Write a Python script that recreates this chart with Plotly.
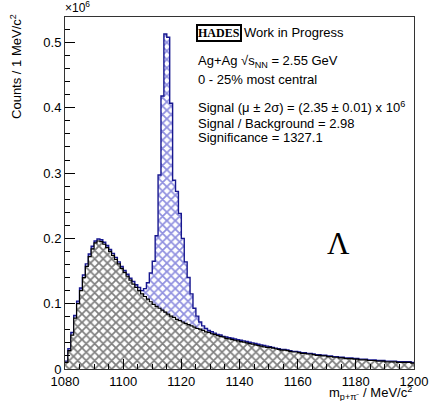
import plotly.graph_objects as go

# Invariant-mass histogram, 1 MeV/c^2 bins from 1080 to 1200 MeV/c^2
mass_min, mass_max = 1080, 1200
bin_edges = list(range(mass_min, mass_max))

# Signal + background (counts / 10^6 per bin)
total_counts = [
    0.012, 0.031, 0.056, 0.082, 0.104, 0.124, 0.144, 0.161, 0.176, 0.188,
    0.196, 0.199, 0.198, 0.194, 0.189, 0.183, 0.177, 0.171, 0.164, 0.157,
    0.151, 0.145, 0.139, 0.134, 0.129, 0.125, 0.120, 0.123, 0.132, 0.147,
    0.165, 0.204, 0.297, 0.418, 0.513, 0.508, 0.407, 0.289, 0.272, 0.238,
    0.200, 0.164, 0.140, 0.115, 0.093, 0.081, 0.072, 0.066, 0.062, 0.059,
    0.057, 0.055, 0.053, 0.052, 0.050, 0.049, 0.048, 0.047, 0.046, 0.045,
    0.044, 0.043, 0.042, 0.041, 0.040, 0.039, 0.038, 0.037, 0.036, 0.035,
    0.034, 0.033, 0.032, 0.031, 0.030, 0.030, 0.029, 0.028, 0.027, 0.027,
    0.026, 0.025, 0.025, 0.024, 0.024, 0.023, 0.022, 0.022, 0.021, 0.021,
    0.020, 0.020, 0.019, 0.019, 0.018, 0.018, 0.017, 0.017, 0.017, 0.016,
    0.016, 0.015, 0.015, 0.015, 0.014, 0.014, 0.014, 0.013, 0.013, 0.013,
    0.012, 0.012, 0.012, 0.012, 0.011, 0.011, 0.011, 0.011, 0.011, 0.010,
]

# Combinatorial background (counts / 10^6 per bin)
background_counts = [
    0.010, 0.028, 0.052, 0.078, 0.100, 0.120, 0.140, 0.157, 0.172, 0.184,
    0.193, 0.196, 0.195, 0.191, 0.186, 0.180, 0.174, 0.168, 0.161, 0.154,
    0.148, 0.142, 0.136, 0.130, 0.125, 0.120, 0.115, 0.111, 0.107, 0.103,
    0.099, 0.096, 0.093, 0.090, 0.087, 0.084, 0.081, 0.079, 0.076, 0.074,
    0.072, 0.070, 0.068, 0.066, 0.064, 0.062, 0.061, 0.059, 0.057, 0.056,
    0.054, 0.053, 0.051, 0.050, 0.049, 0.047, 0.046, 0.045, 0.044, 0.043,
    0.042, 0.041, 0.040, 0.039, 0.038, 0.037, 0.036, 0.035, 0.034, 0.033,
    0.033, 0.032, 0.031, 0.030, 0.029, 0.029, 0.028, 0.027, 0.026, 0.026,
    0.025, 0.024, 0.024, 0.023, 0.023, 0.022, 0.021, 0.021, 0.020, 0.020,
    0.019, 0.019, 0.018, 0.018, 0.017, 0.017, 0.016, 0.016, 0.016, 0.015,
    0.015, 0.014, 0.014, 0.014, 0.013, 0.013, 0.013, 0.012, 0.012, 0.012,
    0.011, 0.011, 0.011, 0.011, 0.010, 0.010, 0.010, 0.010, 0.010, 0.009,
]

x_tick_values = [1080, 1100, 1120, 1140, 1160, 1180, 1200]
x_tick_labels = ["1080", "1100", "1120", "1140", "1160", "1180", "1200"]
y_tick_values = [0.0, 0.1, 0.2, 0.3, 0.4, 0.5]
y_tick_labels = ["0", "0.1", "0.2", "0.3", "0.4", "0.5"]

info_lines = [
    "Ag+Ag √s<sub>NN</sub> = 2.55 GeV",
    "0 - 25% most central",
    "Signal (μ ± 2σ) = (2.35 ± 0.01) x 10<sup>6</sup>",
    "Signal / Background = 2.98",
    "Significance = 1327.1",
]

W, H = 440, 401
ML, MR, MT, MB = 65, 23, 17, 29
FONT = "Liberation Sans, Arial, Helvetica, sans-serif"
SERIF = "Liberation Serif, Times New Roman, serif"


def px_x(p):
    return (p - ML) / (W - ML - MR)


def px_y(p):
    return 1 - (p - MT) / (H - MT - MB)


def step(values):
    # step outline closed at the upper edge of the last bin
    return bin_edges + [mass_max], values + [values[-1]]


fig = go.Figure()

xs, ys = step(total_counts)
fig.add_trace(go.Scatter(
    x=xs, y=ys, mode="lines", line=dict(shape="hv", color="#17178f", width=1.4),
    fill="tozeroy", fillcolor="rgba(0,0,0,0)",
    fillpattern=dict(shape="x", fgcolor="#2222c0", bgcolor="white", size=6, solidity=0.5),
    hoverinfo="skip", showlegend=False,
))

xb, yb = step(background_counts)
fig.add_trace(go.Scatter(
    x=xb, y=yb, mode="lines", line=dict(shape="hv", color="black", width=1.2),
    fill="tozeroy", fillcolor="rgba(0,0,0,0)",
    fillpattern=dict(shape="x", fgcolor="black", bgcolor="white", size=6, solidity=0.5),
    hoverinfo="skip", showlegend=False,
))

axis_common = dict(
    showgrid=False, zeroline=False, showline=True, mirror=True,
    linecolor="#333333", linewidth=1, ticks="inside", tickcolor="black",
    tickwidth=1, ticklen=10, tickfont=dict(family=FONT, size=13, color="black"),
)

fig.update_xaxes(
    range=[mass_min, mass_max], tickmode="array",
    tickvals=x_tick_values, ticktext=x_tick_labels,
    minor=dict(ticks="inside", ticklen=5, tickcolor="black", dtick=5, tick0=1080),
    **axis_common,
)
fig.update_yaxes(
    range=[0, 0.539], tickmode="array",
    tickvals=y_tick_values, ticktext=y_tick_labels,
    minor=dict(ticks="inside", ticklen=5, tickcolor="black", dtick=0.02, tick0=0),
    **axis_common,
)

annotations = [
    dict(x=px_x(63), y=px_y(17), text="×10<sup>6</sup>", xanchor="left", yanchor="bottom",
         font=dict(family=FONT, size=12, color="black")),
    dict(x=px_x(15), y=px_y(12), text="Counts / 1 MeV/c<sup>2</sup>", textangle=-90,
         xanchor="center", yanchor="top", font=dict(family=FONT, size=13, color="black")),
    dict(x=1, y=px_y(385), text="m<sub>p+π⁻</sub> / MeV/c<sup>2</sup>",
         xanchor="right", yanchor="top", font=dict(family=FONT, size=13, color="black")),
    dict(x=px_x(197), y=px_y(33), text="<b>HADES</b>", xanchor="left", yanchor="middle",
         font=dict(family=SERIF, size=12, color="black"),
         bordercolor="black", borderwidth=2, borderpad=0),
    dict(x=px_x(244), y=px_y(33), text="Work in Progress", xanchor="left", yanchor="middle",
         font=dict(family=FONT, size=13, color="black")),
    dict(x=px_x(341), y=px_y(245), text="Λ", xanchor="center", yanchor="middle",
         font=dict(family=SERIF, size=31, color="black")),
]
for text, yc in zip(info_lines, [62, 80, 108, 124, 139]):
    annotations.append(dict(x=px_x(197), y=px_y(yc), text=text, xanchor="left",
                            yanchor="middle", font=dict(family=FONT, size=13, color="black")))
for a in annotations:
    a.update(xref="paper", yref="paper", showarrow=False)

fig.update_layout(
    width=W, height=H, margin=dict(l=ML, r=MR, t=MT, b=MB),
    paper_bgcolor="white", plot_bgcolor="white",
    annotations=annotations,
)

fig.write_html("out.html")
